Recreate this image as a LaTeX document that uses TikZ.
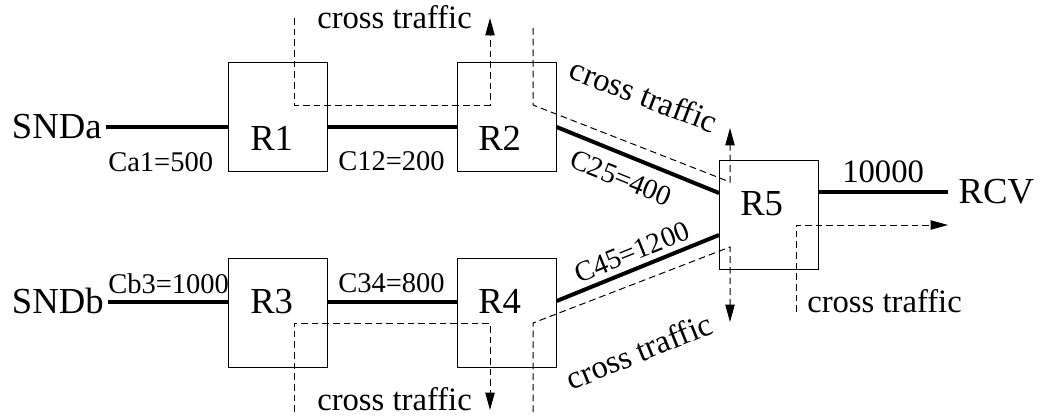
\documentclass[tikz,border=0pt]{standalone}
\usepackage{fontspec}
\setmainfont{Liberation Serif}
\usetikzlibrary{arrows.meta}
\begin{document}
\begin{tikzpicture}[x=0.75pt,y=-0.75pt,
  box/.style={draw,line width=0.75pt,minimum width=74pt,minimum height=81.5pt,inner sep=0,anchor=north west},
  big/.style={font=\fontsize{27.5}{30}\selectfont,inner sep=0},
  small/.style={font=\fontsize{21.4}{24}\selectfont,inner sep=0},
  ctl/.style={font=\fontsize{24.5}{27}\selectfont,inner sep=0},
  link/.style={line width=3pt},
  flow/.style={line width=0.75pt,dash pattern=on 5pt off 3pt},
  flowarr/.style={flow,-{Triangle[length=13pt,width=7pt]}}]
\useasboundingbox (0,0) rectangle (1042,415);
% routers
\node[box] (r1) at (228,62) {};
\node[box] (r2) at (457,62) {};
\node[box] (r3) at (228,258) {};
\node[box] (r4) at (457,258) {};
\node[box] (r5) at (719,160) {};
\node[big,anchor=base west] (r1t) at (250,150) {R1};
\node[big,anchor=base west] (r2t) at (478,150) {R2};
\node[big,anchor=base west] (r3t) at (250,313) {R3};
\node[big,anchor=base west] (r4t) at (478,313) {R4};
\node[big,anchor=base west] (r5t) at (740,215) {R5};
% end hosts
\node[big,anchor=base west,outer xsep=3pt] (snda) at (8,138) {SNDa};
\node[big,anchor=base west,outer xsep=3pt] (sndb) at (8,313) {SNDb};
\node[big,anchor=base west,outer xsep=8pt] (rcv) at (948,203) {RCV};
% links
\draw[link] (snda.east |- 0,127) -- (r1.west |- 0,127);
\draw[link] (r1.east |- 0,127) -- (r2.west |- 0,127);
\draw[link] (r2.east |- 0,127) -- (r5.west |- 0,193);
\draw[link] (sndb.east |- 0,302) -- (r3.west |- 0,302);
\draw[link] (r3.east |- 0,302) -- (r4.west |- 0,302);
\draw[link] (r4.east |- 0,301) -- (r5.west |- 0,235);
\draw[link] (r5.east |- 0,192) -- (rcv.west |- 0,192);
% capacity labels
\node[small,anchor=base west] (ca1) at (108,171) {Ca1=500};
\node[small,anchor=base west] (cb3) at (108,293) {Cb3=1000};
\node[small,anchor=base west] (c12) at (338,170) {C12=200};
\node[small,anchor=base west] (c34) at (338,292) {C34=800};
\node[small,rotate=-22] (c25) at (621,178) {C25=400};
\node[small,rotate=22] (c45) at (632,252) {C45=1200};
\node[ctl,anchor=base west] (c5) at (842,182) {10000};
% cross traffic
\draw[flowarr] (294,18) -- (294,105) -- (490,105) -- (490,18);
\draw[flowarr] (533,28) -- (533,105) -- (730,182) -- (730,128);
\draw[flowarr] (294,412) -- (294,323) -- (490,323) -- (490,410);
\draw[flowarr] (533,412) -- (533,323) -- (730,247) -- (730,322);
\draw[flowarr] (796,312) -- (796,225) -- (948,225);
\node[ctl,anchor=base west] (ct1) at (317,28) {cross traffic};
\node[ctl,rotate=-21] (ct2) at (644,95) {cross traffic};
\node[ctl,anchor=base west] (ct3) at (317,410) {cross traffic};
\node[ctl,rotate=22] (ct4) at (639,351) {cross traffic};
\node[ctl,anchor=base west] (ct5) at (807,312) {cross traffic};
\end{tikzpicture}
\end{document}
